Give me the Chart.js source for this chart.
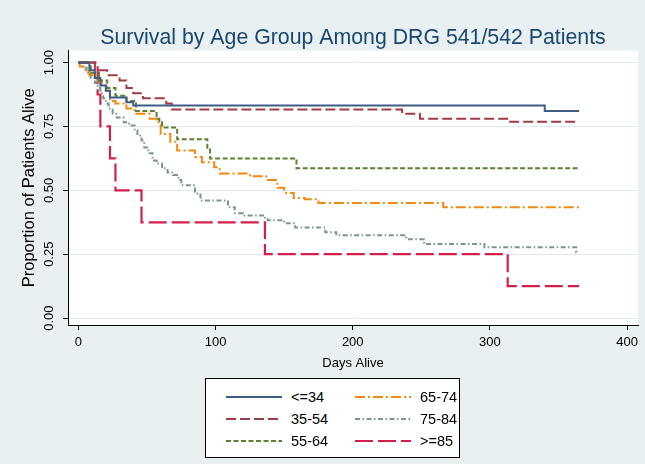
<!DOCTYPE html>
<html>
<head>
<meta charset="utf-8">
<script src="https://cdn.jsdelivr.net/npm/chart.js@4/dist/chart.umd.min.js"></script>
<style>
    body { margin: 0; background: #e8f0f2; }
    #wrap { position: relative; width: 645px; height: 464px; }
    #legend {
        position: absolute; left: 205px; top: 378px; width: 255px; height: 80px;
        box-sizing: border-box; padding: 7px 0 0 20px;
        background: #fff; border: 1px solid #000;
        display: grid; grid-template-rows: repeat(3, 22px); grid-template-columns: 129px 110px;
        grid-auto-flow: column;
        font: 14.5px "Liberation Sans", Arial, sans-serif; color: #000;
    }
    .item { display: flex; align-items: center; }
    .item svg { margin-right: 9px; flex: none; }
</style>
</head>
<body>
<div id="wrap">
    <canvas id="survival" width="645" height="464"></canvas>
    <div id="legend"></div>
</div>
<script>
var fontFamily = '"Liberation Sans", Arial, sans-serif';

var groups = ['<=34', '35-54', '55-64', '65-74', '75-84', '>=85'];
var xTicks = [0, 100, 200, 300, 400];
var yTicks = [0, 0.25, 0.5, 0.75, 1];

// Kaplan-Meier steps: day of the drop, survival after it
var days34 = [0, 8, 12, 16, 20, 23, 35, 40, 340, 365];
var surv34 = [1, 0.97, 0.94, 0.91, 0.89, 0.863, 0.845, 0.832, 0.81, 0.81];

var days54 = [0, 12, 21, 30, 35, 40, 47, 64, 68, 236, 249, 314, 365];
var surv54 = [1, 0.97, 0.95, 0.93, 0.90, 0.88, 0.86, 0.84, 0.816, 0.80, 0.78, 0.768, 0.768];

var days64 = [0, 9, 15, 21, 27, 35, 42, 57, 59, 61, 72, 94, 96, 159, 365];
var surv64 = [1, 0.96, 0.93, 0.90, 0.87, 0.85, 0.81, 0.78, 0.766, 0.746, 0.70, 0.66, 0.625, 0.586, 0.586];

var days74 = [0, 1, 5, 8, 13, 17, 20, 23, 27, 35, 41, 52, 57, 60, 67, 72, 85, 90, 99, 103, 125, 137, 145, 150, 157, 165, 175, 266, 365];
var surv74 = [1, 0.985, 0.965, 0.95, 0.93, 0.91, 0.89, 0.85, 0.84, 0.82, 0.80, 0.78, 0.766, 0.72, 0.69, 0.656, 0.63, 0.61, 0.59, 0.566, 0.555, 0.54, 0.51, 0.49, 0.47, 0.465, 0.45, 0.434, 0.434];

var days84 = [0, 3, 6, 9, 12, 14, 16, 18, 20, 22, 25, 28, 33, 37, 41, 43, 46, 48, 51, 54, 57, 61, 65, 69, 73, 75, 85, 89, 109, 114, 120, 136, 138, 150, 158, 180, 188, 239, 252, 296, 363, 365];
var surv84 = [1, 0.98, 0.96, 0.94, 0.92, 0.90, 0.88, 0.86, 0.84, 0.82, 0.80, 0.785, 0.766, 0.754, 0.734, 0.715, 0.695, 0.668, 0.645, 0.617, 0.605, 0.586, 0.57, 0.56, 0.54, 0.52, 0.488, 0.46, 0.434, 0.41, 0.402, 0.387, 0.383, 0.371, 0.355, 0.336, 0.324, 0.309, 0.29, 0.277, 0.258, 0.258];

var days85 = [0, 14, 16, 23, 27, 46, 136, 313, 365];
var surv85 = [1, 0.875, 0.75, 0.625, 0.5, 0.375, 0.25, 0.125, 0.125];

function toPoints(days, surv) {
    return days.map(function (d, i) { return { x: d, y: surv[i] }; });
}

function survivalLine(label, days, surv, color, dash, width) {
    return {
        label: label,
        data: toPoints(days, surv),
        borderColor: color,
        backgroundColor: color,
        borderDash: dash,
        borderWidth: width,
        stepped: true,
        pointRadius: 0,
        fill: false
    };
}

var plotBackground = {
    id: 'plotBackground',
    beforeDraw: function (chart) {
        var a = chart.chartArea;
        var ctx = chart.ctx;
        ctx.save();
        ctx.fillStyle = '#ffffff';
        ctx.fillRect(a.left, a.top, a.right - a.left, a.bottom - a.top);
        ctx.restore();
    }
};

var axisFont = { family: fontFamily, size: 13 };

var survivalContext = document.getElementById('survival').getContext('2d');
var survivalChart = new Chart(survivalContext, {
    type: 'line',
    data: {
        datasets: [
            survivalLine(groups[0], days34, surv34, '#3e5d86', [], 2),
            survivalLine(groups[1], days54, surv54, '#9c3d47', [10, 4], 2),
            survivalLine(groups[2], days64, surv64, '#5e7f34', [5, 2.5], 2),
            survivalLine(groups[3], days74, surv74, '#f08a12', [10, 3, 2, 3], 2),
            survivalLine(groups[4], days84, surv84, '#7a978d', [5, 2.5, 1.5, 2.5], 2),
            survivalLine(groups[5], days85, surv85, '#d2204c', [18, 5], 2.2)
        ]
    },
    options: {
        responsive: false,
        animation: false,
        layout: { padding: { left: 16, right: 7, top: 0, bottom: 89 } },
        plugins: {
            legend: { display: false },
            tooltip: { enabled: false },
            title: {
                display: true,
                fullSize: false,
                text: 'Survival by Age Group Among DRG 541/542 Patients',
                color: '#1a476f',
                font: { family: fontFamily, size: 21.3, weight: 'normal' },
                padding: { top: 25, bottom: 0 }
            }
        },
        scales: {
            x: {
                type: 'linear',
                min: -7.6,
                max: 408,
                afterBuildTicks: function (scale) {
                    scale.ticks = xTicks.map(function (v) { return { value: v }; });
                },
                afterFit: function (scale) { scale.height = 50; },
                grid: { drawOnChartArea: false, tickLength: 5, tickColor: '#000' },
                border: { color: '#000', width: 1 },
                ticks: { color: '#000', font: axisFont, padding: 5, maxRotation: 0 },
                title: { display: true, text: 'Days Alive', color: '#000', font: axisFont, padding: { top: 0, bottom: 4 } }
            },
            y: {
                type: 'linear',
                min: -0.027,
                max: 1.047,
                afterBuildTicks: function (scale) {
                    scale.ticks = yTicks.map(function (v) { return { value: v }; });
                },
                afterFit: function (scale) { scale.width = 52; },
                grid: { color: '#e2eaee', lineWidth: 1, tickLength: 5, tickColor: '#000' },
                border: { color: '#000', width: 1 },
                ticks: {
                    color: '#000', font: axisFont, padding: 1,
                    minRotation: 90, maxRotation: 90, crossAlign: 'center',
                    callback: function (v) { return Number(v).toFixed(2); }
                },
                title: { display: true, text: 'Proportion of Patients Alive', color: '#000', font: { family: fontFamily, size: 16.5 }, padding: { top: 4, bottom: 0 } }
            }
        }
    },
    plugins: [plotBackground]
});

// legend box in two columns, built from the chart's datasets
var legendBox = document.getElementById('legend');
survivalChart.data.datasets.forEach(function (ds) {
    var item = document.createElement('div');
    item.className = 'item';
    var svgNS = 'http://www.w3.org/2000/svg';
    var svg = document.createElementNS(svgNS, 'svg');
    svg.setAttribute('width', '56');
    svg.setAttribute('height', '8');
    var line = document.createElementNS(svgNS, 'line');
    line.setAttribute('x1', '0');
    line.setAttribute('x2', '56');
    line.setAttribute('y1', '4');
    line.setAttribute('y2', '4');
    line.setAttribute('stroke', ds.borderColor);
    line.setAttribute('stroke-width', ds.borderWidth);
    if (ds.borderDash.length) line.setAttribute('stroke-dasharray', ds.borderDash.join(' '));
    svg.appendChild(line);
    var text = document.createElement('span');
    text.textContent = ds.label;
    item.appendChild(svg);
    item.appendChild(text);
    legendBox.appendChild(item);
});
</script>
</body>
</html>
